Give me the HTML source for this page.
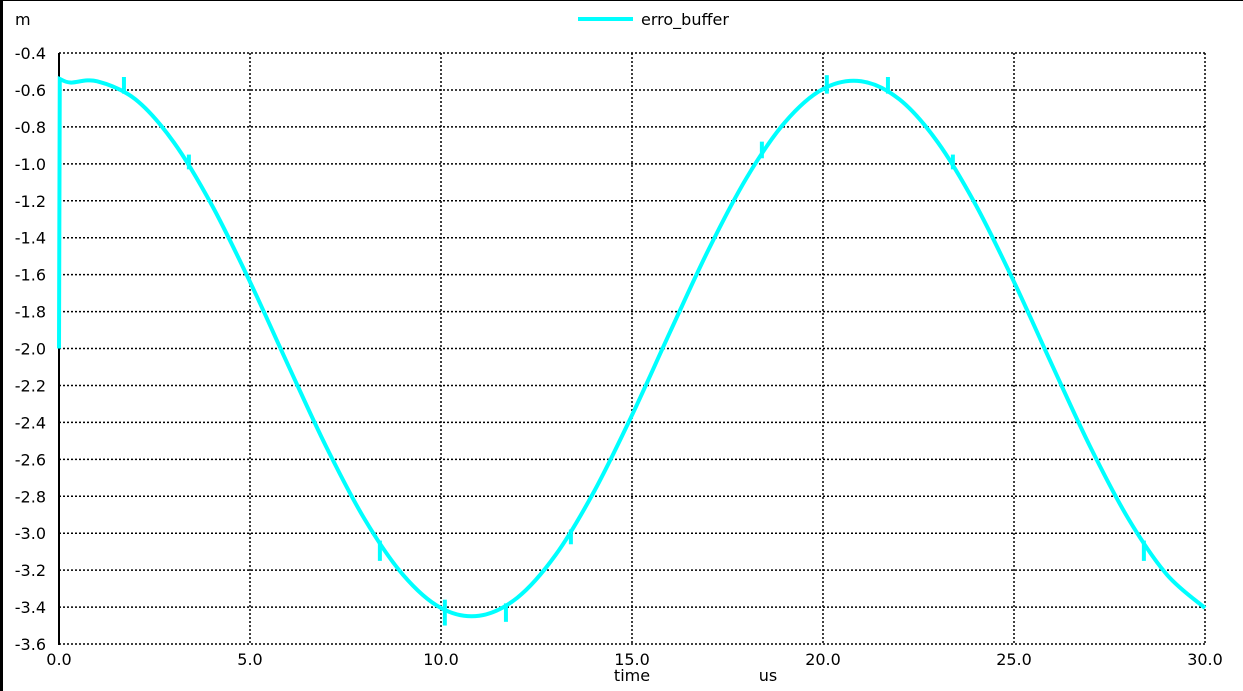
<!DOCTYPE html>
<html><head><meta charset="utf-8"><style>
html,body{margin:0;padding:0;background:#fff;}
svg{display:block;font-family:"DejaVu Sans","Liberation Sans",sans-serif;}
</style></head><body>
<svg id="chart" width="1243" height="691" viewBox="0 0 1243 691">
<rect x="0" y="0" width="1243" height="691" fill="#fff"/>
<rect x="0" y="0" width="3" height="691" fill="#000"/>
<rect x="0" y="0" width="1243" height="1" fill="#000"/>
<g id="grid"></g>
<g id="ylabels"></g>
<g id="xlabels"></g>
<line x1="59" y1="53" x2="59" y2="645" stroke="#000" stroke-width="2"/>
<g id="series"></g>
<text x="15" y="25" font-size="16" fill="#000">m</text>
<g>
<line x1="578" y1="19" x2="633" y2="19" stroke="#00ffff" stroke-width="4"/>
<text x="641" y="25" font-size="16" fill="#000">erro_buffer</text>
</g>
<text x="632" y="681" font-size="16" text-anchor="middle" fill="#000">time</text>
<text x="768" y="681" font-size="16" text-anchor="middle" fill="#000">us</text>
</svg>
<script>
const xTicks=[0,5,10,15,20,25,30];
const xTickLabels=["0.0","5.0","10.0","15.0","20.0","25.0","30.0"];
const yTicks=[-0.4,-0.6,-0.8,-1.0,-1.2,-1.4,-1.6,-1.8,-2.0,-2.2,-2.4,-2.6,-2.8,-3.0,-3.2,-3.4,-3.6];
const yTickLabels=["-0.4","-0.6","-0.8","-1.0","-1.2","-1.4","-1.6","-1.8","-2.0","-2.2","-2.4","-2.6","-2.8","-3.0","-3.2","-3.4","-3.6"];
const times=[0,0.02,0.3,1,2,3,4,5,6,7,8,9,10,11,12,13,14,15,16,17,18,19,20,21,22,23,24,25,26,27,28,29,30];
const values=[-2.0,-0.54,-0.56,-0.553,-0.651,-0.882,-1.223,-1.639,-2.091,-2.534,-2.924,-3.224,-3.405,-3.447,-3.349,-3.118,-2.777,-2.361,-1.909,-1.466,-1.076,-0.776,-0.595,-0.553,-0.651,-0.882,-1.223,-1.639,-2.091,-2.534,-2.924,-3.224,-3.405];
const spikeTimes=[1.7,3.4,8.4,10.1,11.7,13.4,18.4,20.1,21.7,23.4,28.4];
const spikeTop=[-0.53,-0.95,-3.04,-3.36,-3.38,-2.98,-0.88,-0.52,-0.53,-0.95,-3.04];
const spikeBottom=[-0.62,-1.03,-3.15,-3.5,-3.48,-3.06,-0.97,-0.62,-0.62,-1.03,-3.15];
const X0=59,X1=1205,Y0=53,Y1=644,xmin=0,xmax=30,ymax=-0.4,ymin=-3.6;
function xs(t){return X0+(t-xmin)/(xmax-xmin)*(X1-X0);}
function ys(v){return Y0+(ymax-v)/(ymax-ymin)*(Y1-Y0);}
const NS="http://www.w3.org/2000/svg";
const grid=document.getElementById('grid'),yl=document.getElementById('ylabels'),xl=document.getElementById('xlabels'),ser=document.getElementById('series');
yTicks.forEach((v,i)=>{
 const l=document.createElementNS(NS,'line');
 l.setAttribute('x1',X0);l.setAttribute('x2',X1);l.setAttribute('y1',ys(v));l.setAttribute('y2',ys(v));
 l.setAttribute('stroke','#000');l.setAttribute('stroke-width','1.5');l.setAttribute('stroke-dasharray','2,2');
 
 
 grid.appendChild(l);
 const t=document.createElementNS(NS,'text');
 t.setAttribute('x',46);t.setAttribute('y',ys(v)+6);t.setAttribute('text-anchor','end');t.setAttribute('font-size','16');
 t.textContent=yTickLabels[i];
 
 
 yl.appendChild(t);
});
xTicks.forEach((v,i)=>{
 if(i>0){
 const l=document.createElementNS(NS,'line');
 l.setAttribute('x1',xs(v));l.setAttribute('x2',xs(v));l.setAttribute('y1',Y0);l.setAttribute('y2',Y1);
 l.setAttribute('stroke','#000');l.setAttribute('stroke-width','1.5');l.setAttribute('stroke-dasharray','2,2');
 
 
 grid.appendChild(l);}
 const t=document.createElementNS(NS,'text');
 t.setAttribute('x',xs(v));t.setAttribute('y',665);t.setAttribute('text-anchor','middle');t.setAttribute('font-size','16');
 t.textContent=xTickLabels[i];
 
 
 xl.appendChild(t);
});
const p=document.createElementNS(NS,'path');
const pts=times.map((t,i)=>[xs(t),ys(values[i])]);
let d='M'+pts[0][0]+','+pts[0][1]+' L'+pts[1][0]+','+pts[1][1];
for(let i=1;i<pts.length-1;i++){
 const p0=pts[Math.max(1,i-1)],p1=pts[i],p2=pts[i+1],p3=pts[Math.min(pts.length-1,i+2)];
 const c1=[p1[0]+(p2[0]-p0[0])/6,p1[1]+(p2[1]-p0[1])/6],c2=[p2[0]-(p3[0]-p1[0])/6,p2[1]-(p3[1]-p1[1])/6];
 d+=' C'+c1[0]+','+c1[1]+' '+c2[0]+','+c2[1]+' '+p2[0]+','+p2[1];
}
p.setAttribute('d',d);p.setAttribute('fill','none');p.setAttribute('stroke','#00ffff');p.setAttribute('stroke-width','4');


ser.appendChild(p);
spikeTimes.forEach((t,i)=>{
 const l=document.createElementNS(NS,'line');
 l.setAttribute('x1',xs(t));l.setAttribute('x2',xs(t));l.setAttribute('y1',ys(spikeTop[i]));l.setAttribute('y2',ys(spikeBottom[i]));
 l.setAttribute('stroke','#00ffff');l.setAttribute('stroke-width','4');
 
 
 ser.appendChild(l);
});
</script>
</body></html>
